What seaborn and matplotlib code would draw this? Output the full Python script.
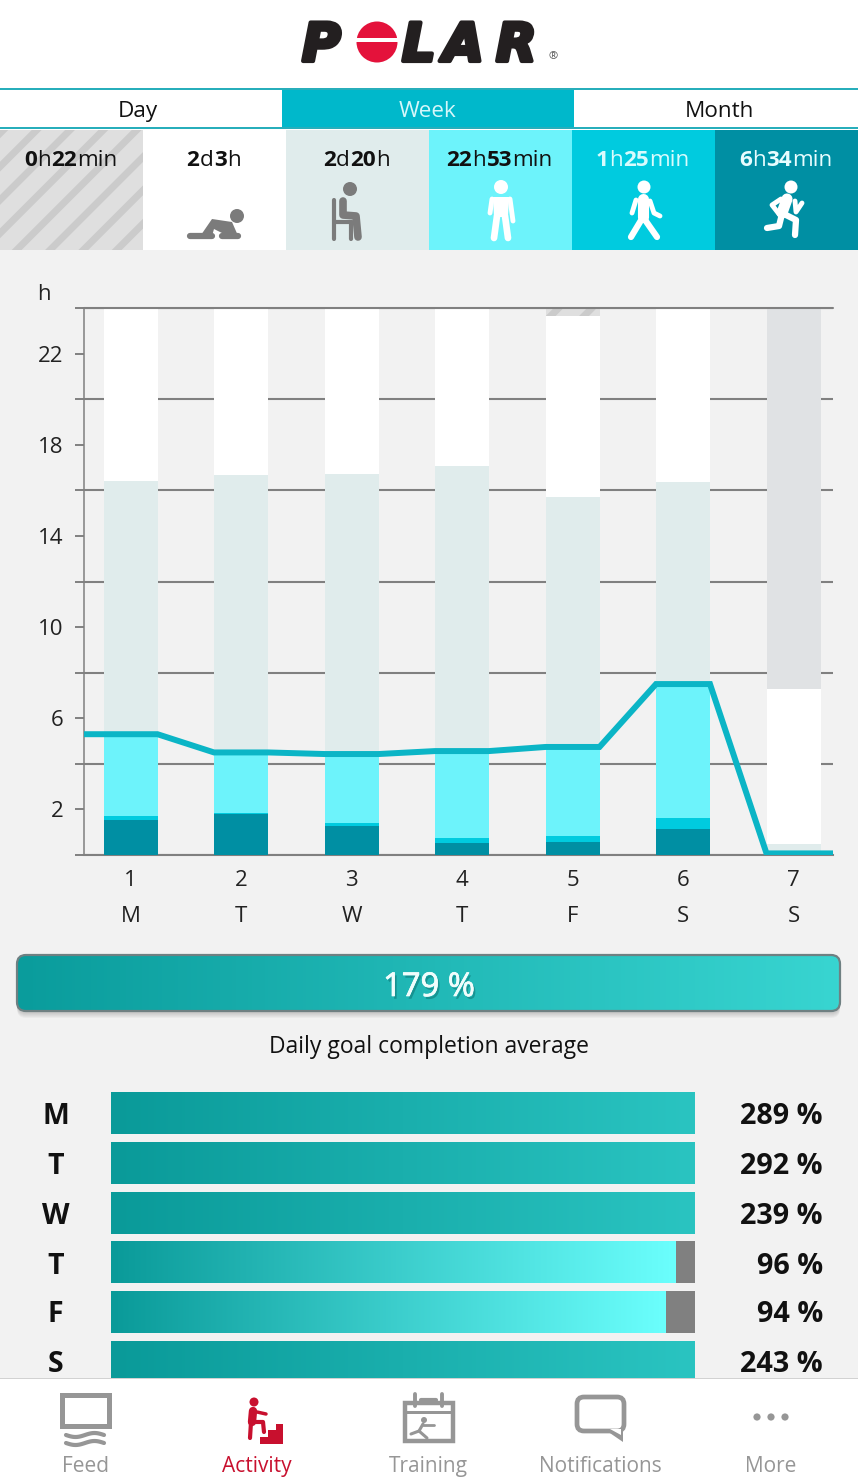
import numpy as np
import pandas as pd
import matplotlib
matplotlib.use("Agg")
import matplotlib.pyplot as plt
import seaborn as sns
from matplotlib.patches import Rectangle, Circle, FancyBboxPatch, Polygon
from matplotlib.colors import LinearSegmentedColormap
import matplotlib.patheffects as pe

# ---------- data ----------
day_numbers = ["1", "2", "3", "4", "5", "6", "7"]
day_letters = ["M", "T", "W", "T", "F", "S", "S"]
high_hours = [1.54, 1.80, 1.27, 0.53, 0.57, 1.14, 0.0]
medium_hours = [0.17, 0.05, 0.13, 0.22, 0.26, 0.48, 0.0]
light_hours = [3.59, 2.65, 3.03, 3.81, 3.91, 5.88, 0.0]
sitting_hours = [11.10, 12.17, 12.27, 12.50, 10.96, 8.86, 0.5]
sleep_hours = [7.60, 7.33, 7.30, 6.94, 7.94, 7.64, 6.78]
nodata_hours = [0.0, 0.0, 0.0, 0.0, 0.36, 0.0, 16.72]
goal_line = [5.3, 4.5, 4.43, 4.56, 4.74, 7.5, 0.07]
y_major = [0, 4, 8, 12, 16, 20, 24]
y_labelled = [2, 6, 10, 14, 18, 22]

goal_days = ["M", "T", "W", "T ", "F", "S"]
goal_percent = [289, 292, 239, 96, 94, 243]
goal_fill = [100, 100, 100, 96.6, 95, 100]
goal_average = 179
goal_caption = "Daily goal completion average"

tabs = ["Day", "Week", "Month"]
tile_texts = [
    [("0", 1), ("h", 0), ("22", 1), ("min", 0)],
    [("2", 1), ("d", 0), ("3", 1), ("h", 0)],
    [("2", 1), ("d", 0), ("20", 1), ("h", 0)],
    [("22", 1), ("h", 0), ("53", 1), ("min", 0)],
    [("1", 1), ("h", 0), ("25", 1), ("min", 0)],
    [("6", 1), ("h", 0), ("34", 1), ("min", 0)],
]
nav_labels = ["Feed", "Activity", "Training", "Notifications", "More"]

# ---------- colours ----------
C_BG = "#f2f2f2"
C_TEAL = "#00b8cb"
C_LINE = "#0bb5c6"
C_HIGH = "#008fa3"
C_MED = "#00cbdf"
C_LIGHT = "#6df3fb"
C_SIT = "#e0ecec"
C_NODATA = "#e0e2e4"
C_GRID = "#808080"
C_NAV = "#969696"
C_RED = "#c8102e"
C_HATCH = "#cbcbcb"
C_HATCH_BG = "#dfdfdf"

sns.set_theme(style="white")
plt.rcParams["font.family"] = ["Open Sans", "DejaVu Sans"]
plt.rcParams["hatch.linewidth"] = 5

W, H = 858, 1480
fig = plt.figure(figsize=(W / 100, H / 100), dpi=100, facecolor=C_BG)


def px_axes(zorder):
    a = fig.add_axes([0, 0, 1, 1], zorder=zorder, facecolor="none")
    a.set_xlim(0, W)
    a.set_ylim(H, 0)
    a.axis("off")
    return a


def rect_axes(x0, y0, x1, y1, zorder):
    return fig.add_axes([x0 / W, 1 - y1 / H, (x1 - x0) / W, (y1 - y0) / H],
                        zorder=zorder, facecolor="none")


back = px_axes(0)
front = px_axes(10)

# ---------- header ----------
front.add_patch(Rectangle((0, 0), W, 130, fc="white", ec="none"))
front.add_patch(Rectangle((282, 89), 292, 39, fc=C_TEAL, ec="none"))
front.add_patch(Rectangle((0, 87.5), W, 2.2, fc="#27aebb", ec="none"))
front.add_patch(Rectangle((0, 127), W, 2.4, fc="#27aebb", ec="none"))
for label, x, col in zip(tabs, [138, 428, 719], ["#111111", "#d6f7fa", "#111111"]):
    front.text(x, 111.5, label, ha="center", va="center", fontsize=16.2, color=col)

# logo
logo_style = dict(ha="left", va="baseline", fontsize=38, color="#231f20", style="italic",
                  weight="bold", family=["DejaVu Sans"],
                  path_effects=[pe.withStroke(linewidth=3, foreground="#231f20")])
front.text(302, 61, "P", **logo_style)
front.text(402, 61, "L", **logo_style)
front.text(443, 61, "A", **logo_style)
front.text(496, 61, "R", **logo_style)
front.add_patch(Circle((377, 42), 20.5, fc="#e4123b", ec="none"))
front.add_patch(Rectangle((345, 37.5), 53, 4.5, fc="white", ec="none"))
front.text(553, 57, "®", ha="center", va="center", fontsize=8, color="#555555")

# ---------- tiles ----------
tile_cols = [C_HATCH_BG, "white", C_SIT, C_LIGHT, C_MED, C_HIGH]
tile_txt = ["#111111", "#111111", "#111111", "#111111", "#d8fbfd", "#e8fdff"]
renderer = fig.canvas.get_renderer()
for i, (col, tcol, runs) in enumerate(zip(tile_cols, tile_txt, tile_texts)):
    x0 = 143 * i
    if i == 0:
        front.add_patch(Rectangle((x0, 129.5), 143, 120, fc=col, ec=C_HATCH, lw=0, hatch="/"))
    else:
        front.add_patch(Rectangle((x0, 129.5), 143, 120, fc=col, ec="none"))
    items = [front.text(0, 160, s, ha="left", va="center", fontsize=16.2, color=tcol,
                        weight="bold" if b else "normal") for s, b in runs]
    ws = [t.get_window_extent(renderer).width for t in items]
    gap = 0.3
    cur = x0 + 70.5 - (sum(ws) + gap * (len(ws) - 1)) / 2
    for t, w in zip(items, ws):
        t.set_x(cur)
        cur += w + gap


def limb(a, pts, col, lw):
    xs, ys = zip(*pts)
    a.plot(xs, ys, color=col, lw=lw, solid_capstyle="round", solid_joinstyle="round")


# sleep icon
g = "#7b7b7b"
front.add_patch(Circle((237, 216), 7, fc=g, ec="none"))
limb(front, [(190, 236), (212, 236)], g, 4.5)
limb(front, [(222, 236), (238, 236)], g, 4.5)
front.add_patch(Polygon([(201, 235), (212, 219), (232, 222), (239, 238), (226, 235), (214, 229), (212, 236)],
                        fc=g, ec="none"))
# sit icon
front.add_patch(Circle((350, 189), 7, fc=g, ec="none"))
limb(front, [(333.5, 200), (333.5, 239)], g, 3)
limb(front, [(334, 222), (352, 222)], g, 3)
limb(front, [(351, 224), (351, 239)], g, 3)
limb(front, [(343, 201), (343, 215), (356, 216), (358, 237)], g, 5.5)
# stand icon
w = "white"
front.add_patch(Circle((501, 187), 7, fc=w, ec="none"))
front.add_patch(Polygon([(493, 197), (509, 197), (508, 217), (494, 217)], fc=w, ec="none"))
limb(front, [(497, 216), (494, 238)], w, 4.8)
limb(front, [(505, 216), (508, 238)], w, 4.8)
limb(front, [(492, 199), (490, 213)], w, 3.5)
limb(front, [(510, 199), (513, 221)], w, 3.5)
# walk icon
front.add_patch(Circle((644, 187), 6.5, fc=w, ec="none"))
limb(front, [(643, 199), (643, 217)], w, 8)
limb(front, [(643, 217), (631, 237)], w, 4.5)
limb(front, [(643, 217), (657, 237)], w, 4.5)
limb(front, [(636, 200), (632, 213)], w, 3.5)
limb(front, [(650, 201), (654, 213), (660, 216)], w, 3.5)
# run icon
front.add_patch(Circle((791, 187), 6.5, fc=w, ec="none"))
limb(front, [(787, 199), (782, 213)], w, 8)
limb(front, [(782, 214), (779, 226), (767, 228)], w, 4.5)
limb(front, [(784, 214), (796, 220), (795, 235)], w, 4.5)
limb(front, [(781, 199), (772, 205), (779, 214)], w, 3.5)
limb(front, [(795, 201), (796, 212), (802, 203)], w, 3.5)

# ---------- main stacked chart ----------
ax = rect_axes(84, 308, 833, 855, 2)
BAR_W = 54 / 110.5
stack = pd.DataFrame({"day": day_numbers, "high": high_hours, "medium": medium_hours,
                      "light": light_hours, "sit": sitting_hours, "sleep": sleep_hours,
                      "nodata": nodata_hours})
layer_order = [("nodata", C_NODATA), ("sleep", "white"), ("sit", C_SIT),
               ("light", C_LIGHT), ("medium", C_MED), ("high", C_HIGH)]
names = [n for n, _ in layer_order]
for n, col in layer_order:
    below = names[names.index(n):]
    stack["top"] = stack[below].sum(axis=1)
    sns.barplot(data=stack, x="day", y="top", color=col, saturation=1, width=BAR_W,
                errorbar=None, linewidth=0, ax=ax, zorder=3)
    if n == "nodata":
        hatched = ax.containers[-1][4]
        hatched.set_facecolor(C_HATCH_BG)
        hatched.set_edgecolor(C_HATCH)
        hatched.set_hatch("/")

xl = (84 - 130.5) / 110.5
xr = (833 - 130.5) / 110.5
line_x, line_y = [], []
for i, v in enumerate(goal_line):
    line_x += [xl if i == 0 else i - BAR_W / 2, xr if i == len(goal_line) - 1 else i + BAR_W / 2]
    line_y += [v, v]
sns.lineplot(x=line_x, y=line_y, sort=False, estimator=None, errorbar=None, color=C_LINE,
             lw=4.3, ax=ax, zorder=5, solid_joinstyle="miter", solid_capstyle="butt")

ax.set_xlim(xl, xr)
ax.set_ylim(0, 24)
ax.set_xlabel("")
ax.set_ylabel("")
ax.set_yticks(y_major)
ax.set_yticklabels([])
ax.set_yticks(y_labelled, minor=True)
ax.set_yticklabels([str(v) for v in y_labelled], minor=True, fontsize=16, color="#222222")
ax.tick_params(axis="y", which="both", left=True, length=6.5, width=1.4, color=C_GRID, pad=8)
ax.yaxis.grid(True, which="major", color=C_GRID, lw=1.5, zorder=1)
ax.set_axisbelow(True)
ax.axhline(y_major[-1], color=C_GRID, lw=1.5, zorder=6, clip_on=False)
ax.set_xticks(range(7))
ax.set_xticklabels([f"{n}\n{d}" for n, d in zip(day_numbers, day_letters)], fontsize=16,
                   color="#222222", linespacing=1.98)
ax.tick_params(axis="x", bottom=False, pad=4.5)
for s in ["top", "right"]:
    ax.spines[s].set_visible(False)
ax.spines["left"].set_color(C_GRID)
ax.spines["left"].set_linewidth(1.1)
ax.spines["bottom"].set_color(C_GRID)
ax.spines["bottom"].set_linewidth(1.5)
back.text(44, 294, "h", ha="center", va="center", fontsize=16, color="#222222")

# ---------- average bar ----------
cm_full = LinearSegmentedColormap.from_list("full", ["#0a9a99", "#2ac4c1"])
cm_avg = LinearSegmentedColormap.from_list("avg", ["#0a9c9c", "#38d5d1"])
cm_part = LinearSegmentedColormap.from_list("part", ["#0a9a99", "#6bfffd"])
grad = np.linspace(0, 1, 256).reshape(1, -1)
for k in range(8):
    back.add_patch(FancyBboxPatch((17, 956 + k), 823, 55, boxstyle="round,pad=0,rounding_size=9",
                                  fc="#404040", ec="none", alpha=0.045))
im = back.imshow(grad, cmap=cm_avg, extent=(17, 840, 1011, 955), aspect="auto", zorder=3)
clip = FancyBboxPatch((17, 955), 823, 56, boxstyle="round,pad=0,rounding_size=9",
                      fc="none", ec="#6f8082", lw=1.6, zorder=4)
back.add_patch(clip)
im.set_clip_path(clip)
back.set_xlim(0, W)
back.set_ylim(H, 0)
back.text(429, 987.5, f"{goal_average} %", ha="center", va="center", fontsize=23.6, color="#f0fdfc",
          weight=500, zorder=6,
          path_effects=[pe.withSimplePatchShadow(offset=(1.5, -2), shadow_rgbFace="#0a6666", alpha=0.45),
                        pe.withStroke(linewidth=0.5, foreground="#f0fdfc")])
back.text(429, 1047, goal_caption, ha="center", va="center", fontsize=16.5, color="#111111")

# ---------- daily goal bars ----------
bx = rect_axes(111, 1088, 695, 1387, 3)
goals = pd.DataFrame({"day": goal_days, "track": [100] * 6})
sns.barplot(data=goals, y="day", x="track", color=C_GRID, saturation=1, width=42 / 49.8,
            errorbar=None, linewidth=0, ax=bx)
for bar, pct, fill in zip(bx.containers[0], goal_percent, goal_fill):
    y0, h = bar.get_y(), bar.get_height()
    bx.imshow(grad, cmap=cm_full if pct > 100 else cm_part, extent=(0, fill, y0 + h, y0),
              aspect="auto", zorder=4)
bx.set_xlim(0, 100)
bx.set_ylim(5.5 + (1387 - 1088) / 49.8 - 6, -0.5)
bx.axis("off")
row_c = [1116, 1166, 1216, 1266, 1315, 1365]
for y, d, pct in zip(row_c, goal_days, goal_percent):
    back.text(55.5, y, d.strip(), ha="center", va="center", fontsize=20.5, weight="bold", color="#111111")
    back.text(823, y, f"{pct} %", ha="right", va="center", fontsize=20.7, weight="bold", color="#111111")

# ---------- bottom navigation ----------
front.add_patch(Rectangle((0, 1378), W, 102, fc="white", ec="none"))
front.add_patch(Rectangle((0, 1378), W, 1.3, fc="#d2d2d2", ec="none"))
for label, x, col in zip(nav_labels, [85, 257, 428.5, 600, 771],
                         [C_NAV, C_RED, C_NAV, C_NAV, C_NAV]):
    front.text(x, 1466.5, label, ha="center", va="center", fontsize=15, color=col)
# feed
front.add_patch(Rectangle((62, 1394.5), 47, 31, fc="none", ec=C_NAV, lw=3.6))
for yy in (1435, 1443):
    xs = np.linspace(66, 104, 30)
    front.plot(xs, yy + 2 * np.sin((xs - 66) / 38 * 2 * np.pi), color=C_NAV, lw=3)
# activity
r = C_RED
front.add_patch(Circle((254, 1402), 4.5, fc=r, ec="none"))
limb(front, [(253, 1411), (252, 1422)], r, 6)
limb(front, [(252, 1422), (263, 1422), (264, 1432)], r, 3)
limb(front, [(251, 1422), (250, 1438)], r, 3)
limb(front, [(257, 1412), (266, 1414)], r, 2.5)
front.add_patch(Polygon([(260, 1444), (260, 1437), (268, 1437), (268, 1430), (276, 1430), (276, 1424),
                         (283, 1424), (283, 1444)], fc=r, ec="none"))
# training
front.add_patch(Rectangle((404.5, 1403), 48, 38, fc="none", ec=C_NAV, lw=3.2))
front.add_patch(Rectangle((403, 1411), 51, 2.5, fc=C_NAV, ec="none"))
limb(front, [(415, 1394), (415, 1406)], C_NAV, 2.8)
limb(front, [(442, 1394), (442, 1406)], C_NAV, 2.8)
limb(front, [(421, 1400), (436, 1400)], C_NAV, 3)
front.add_patch(Circle((424, 1420), 3, fc=C_NAV, ec="none"))
limb(front, [(423, 1424), (419, 1431), (411, 1434)], C_NAV, 2.2)
limb(front, [(419, 1431), (427, 1438)], C_NAV, 2.2)
limb(front, [(423, 1425), (434, 1425)], C_NAV, 2)
# notifications
front.add_patch(FancyBboxPatch((577, 1397), 47, 34, boxstyle="round,pad=0,rounding_size=7",
                               fc="none", ec=C_NAV, lw=3.4))
front.add_patch(Polygon([(604, 1429), (623, 1429), (623, 1442)], fc=C_NAV, ec="none"))
front.add_patch(Polygon([(610, 1428.5), (621, 1428.5), (621, 1435)], fc="white", ec="none"))
# more
for x in (757, 771, 785):
    front.add_patch(Circle((x, 1417), 3.6, fc=C_NAV, ec="none"))
front.set_xlim(0, W)
front.set_ylim(H, 0)

fig.savefig("out.png", dpi=100, facecolor=C_BG)
